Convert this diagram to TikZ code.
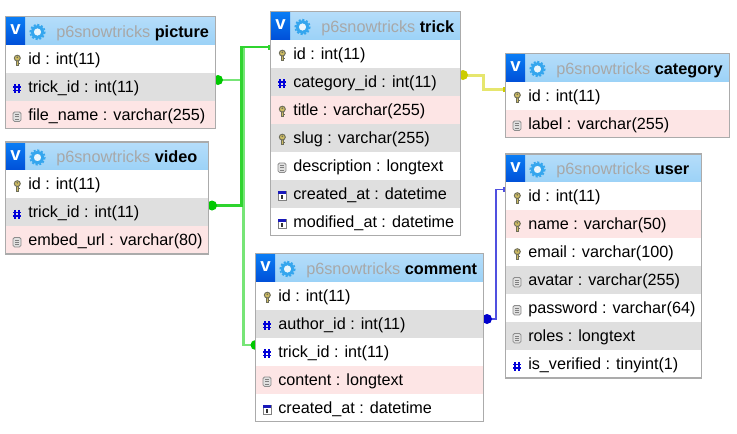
\documentclass[tikz,border=0pt]{standalone}
\usepackage{fontspec}
\setmainfont{Liberation Sans}
\usetikzlibrary{calc,backgrounds}
\definecolor{rowgrey}{HTML}{DFDFDF}
\definecolor{rowpink}{HTML}{FDE5E5}
\definecolor{rowwhite}{HTML}{FFFFFF}
\definecolor{hdrtop}{HTML}{B5DDFA}
\definecolor{hdrbot}{HTML}{9CD2F7}
\definecolor{framec}{HTML}{ABABAB}
\definecolor{vtop}{HTML}{0A7DF5}
\definecolor{vbot}{HTML}{0050D8}
\definecolor{gearc}{HTML}{35A6EE}
\definecolor{dbgrey}{HTML}{A8A8A8}
\definecolor{greenl}{HTML}{77E577}
\definecolor{greenm}{HTML}{2FD42F}
\definecolor{greend}{HTML}{00C800}
\definecolor{yellowl}{HTML}{E6E66E}
\definecolor{yellowd}{HTML}{CCCC00}
\definecolor{bluel}{HTML}{5050E0}
\definecolor{blued}{HTML}{0000CC}
\definecolor{keygold}{HTML}{CDBB62}
\definecolor{keyedge}{HTML}{6E6E5A}
\tikzset{
  x=0.75pt,y=-0.75pt,
  rowtext/.style={anchor=base west,inner sep=0pt,font=\fontsize{12.15pt}{14pt}\selectfont,text=black},
  hdrtext/.style={anchor=base west,inner sep=0pt,font=\fontsize{12.2pt}{14pt}\selectfont},
  vtext/.style={anchor=center,inner sep=0pt,font=\fontsize{14pt}{14pt}\bfseries\selectfont,text=white},
  tblframe/.style={draw=framec,line width=0.9pt},
  greenlink/.style={draw=greenl,line width=1.9pt},
  greenstrong/.style={draw=greenm,line width=1.7pt},
  yellowlink/.style={draw=yellowl,line width=2.25pt},
  bluelink/.style={draw=bluel,line width=1.4pt},
}
\newcommand{\keyicon}[1]{%
  \draw[keyedge,fill=keygold,line width=.6pt] ($(#1)+(-.9,-1)$) rectangle ($(#1)+(1.5,5)$);
  \draw[keyedge,fill=keygold,line width=.7pt] ($(#1)+(.3,-2.4)$) ellipse (3 and 2.9);
  \fill[keyedge] ($(#1)+(.3,-3.2)$) circle (.9);
  \fill[keyedge] ($(#1)+(1.4,2)$) rectangle ($(#1)+(2.6,3)$);}
\newcommand{\hashicon}[1]{%
  \draw[blue!85!black,line width=1.1pt]
    ($(#1)+(-1.8,-4.2)$) -- ($(#1)+(-1.8,4.6)$)
    ($(#1)+(1.8,-4.2)$) -- ($(#1)+(1.8,4.6)$)
    ($(#1)+(-4,-1.6)$) -- ($(#1)+(4,-1.6)$)
    ($(#1)+(-4,2)$) -- ($(#1)+(4,2)$);}
\newcommand{\docicon}[1]{%
  \draw[black!45,fill=black!12,rounded corners=1.2pt,line width=.6pt] ($(#1)+(-4,-4.6)$) rectangle ($(#1)+(4,5)$);
  \draw[black!50,line width=.5pt] ($(#1)+(-2,-2)$) -- ($(#1)+(2,-2)$) ($(#1)+(-2,.2)$) -- ($(#1)+(2,.2)$) ($(#1)+(-2,2.4)$) -- ($(#1)+(2,2.4)$);}
\newcommand{\calicon}[1]{%
  \draw[black!50,fill=white,line width=.6pt] ($(#1)+(-4,-4.6)$) rectangle ($(#1)+(4,5)$);
  \fill[blue!70!black!90] ($(#1)+(-3.8,-4.4)$) rectangle ($(#1)+(3.8,-1.8)$);
  \fill[black!80] ($(#1)+(-.8,-1)$) rectangle ($(#1)+(1,3.8)$);}
% table: name, left, top, right, title, rows (icon/colour/nodename/text)
\newcommand{\dbtable}[6]{%
  \fill[top color=hdrtop,bottom color=hdrbot] (#2,#3) rectangle (#4,#3+28);
  \fill[top color=vtop,bottom color=vbot] (#2+.5,#3+.5) rectangle (#2+19.5,#3+28);
  \node[vtext] (#1-v) at (#2+10,#3+13.5) {v};
  \node[circle,draw=gearc,fill=white!80!hdrbot,line width=2.2pt,minimum size=8pt,inner sep=0pt] (#1-gear) at (#2+32,#3+15.5) {};
  \draw[gearc,line width=1.3pt,dash pattern=on 1.5pt off 1.3pt] (#2+32,#3+15.5) circle (7.2);
  \node[hdrtext] (#1-title) at (#2+50.5,#3+20.5) {\textcolor{dbgrey}{p6snowtricks} \textcolor{black}{\textbf{#5}}};
  \foreach \ic/\col/\nm/\tx [count=\ri from 0] in {#6}{
    \pgfmathsetmacro{\yt}{#3+28+28*\ri}
    \pgfmathsetmacro{\yb}{\yt+28}
    \fill[\col] (#2,\yt) rectangle (#4,\yb);
    \coordinate (ic) at (#2+11.5,\yt+16);
    \csname \ic icon\endcsname{ic}
    \node[rowtext] (#1-\nm-t) at (#2+22.5,\yt+19.5) {\tx};
    \coordinate (#1-\nm) at (#4,\yt+7.5);
    \coordinate (#1-\nm-w) at (#2,\yt+7.5);
    \global\let\lastyb\yb
  }
  \draw[tblframe] (#2,#3) rectangle (#4,\lastyb);
}
\begin{document}
\begin{tikzpicture}
\begin{pgfonlayer}{background}
\path[use as bounding box,fill=white] (0,0) rectangle (737,433);
\end{pgfonlayer}
% tables
\dbtable{picture}{5.5}{16.5}{215.5}{picture}{key/rowwhite/id/{id : int(11)},hash/rowgrey/trick/{trick\_id : int(11)},doc/rowpink/file/{file\_name : varchar(255)}}
\dbtable{video}{5.5}{142}{208.5}{video}{key/rowwhite/id/{id : int(11)},hash/rowgrey/trick/{trick\_id : int(11)},doc/rowpink/embed/{embed\_url : varchar(80)}}
\dbtable{trick}{270.5}{11.5}{460.5}{trick}{key/rowwhite/id/{id : int(11)},hash/rowgrey/cat/{category\_id : int(11)},key/rowpink/title/{title : varchar(255)},key/rowgrey/slug/{slug : varchar(255)},doc/rowwhite/desc/{description : longtext},cal/rowgrey/created/{created\_at : datetime},cal/rowwhite/mod/{modified\_at : datetime}}
\dbtable{category}{505.5}{53.5}{729.5}{category}{key/rowwhite/id/{id : int(11)},doc/rowpink/label/{label : varchar(255)}}
\dbtable{user}{505.5}{154}{701.5}{user}{key/rowwhite/id/{id : int(11)},key/rowpink/name/{name : varchar(50)},key/rowwhite/email/{email : varchar(100)},doc/rowgrey/avatar/{avatar : varchar(255)},doc/rowwhite/password/{password : varchar(64)},doc/rowgrey/roles/{roles : longtext},hash/rowwhite/verified/{is\_verified : tinyint(1)}}
\dbtable{comment}{255.5}{253.5}{483.5}{comment}{key/rowwhite/id/{id : int(11)},hash/rowgrey/author/{author\_id : int(11)},hash/rowwhite/trick/{trick\_id : int(11)},doc/rowpink/content/{content : longtext},cal/rowwhite/created/{created\_at : datetime}}
% connectors and end markers go behind the tables
\begin{pgfonlayer}{background}
\coordinate (authorout) at ($(comment-author)+(0,2)$);
\draw[greenlink] (comment-trick-w) -- ++(-12,0) |- (trick-id-w);
\draw[greenlink] (picture-trick) -- ++(28,0);
\draw[greenstrong] (video-trick) -- ++(33,0) |- (trick-id-w);
\draw[yellowlink] (trick-cat) -- ++(22.5,0) |- (category-id-w);
\draw[bluelink] (authorout) -- ++(12.5,0) |- (user-id-w);
\fill[greend] (picture-trick) ++(2.5,0) circle (5);
\fill[greend] (video-trick) ++(3.5,0) circle (5);
\fill[greend] (comment-trick-w) circle (5);
\fill[yellowd] (trick-cat) ++(2.5,0) circle (5);
\fill[blued] (authorout) ++(3.5,0) circle (5);
\fill[greenm] (trick-id-w) ++(-3,-2.5) rectangle ++(3,5);
\fill[yellowd] (category-id-w) ++(-3,-2.5) rectangle ++(3,5);
\fill[bluel] (user-id-w) ++(-3,-2.5) rectangle ++(3,5);
\end{pgfonlayer}
\end{tikzpicture}
\end{document}
